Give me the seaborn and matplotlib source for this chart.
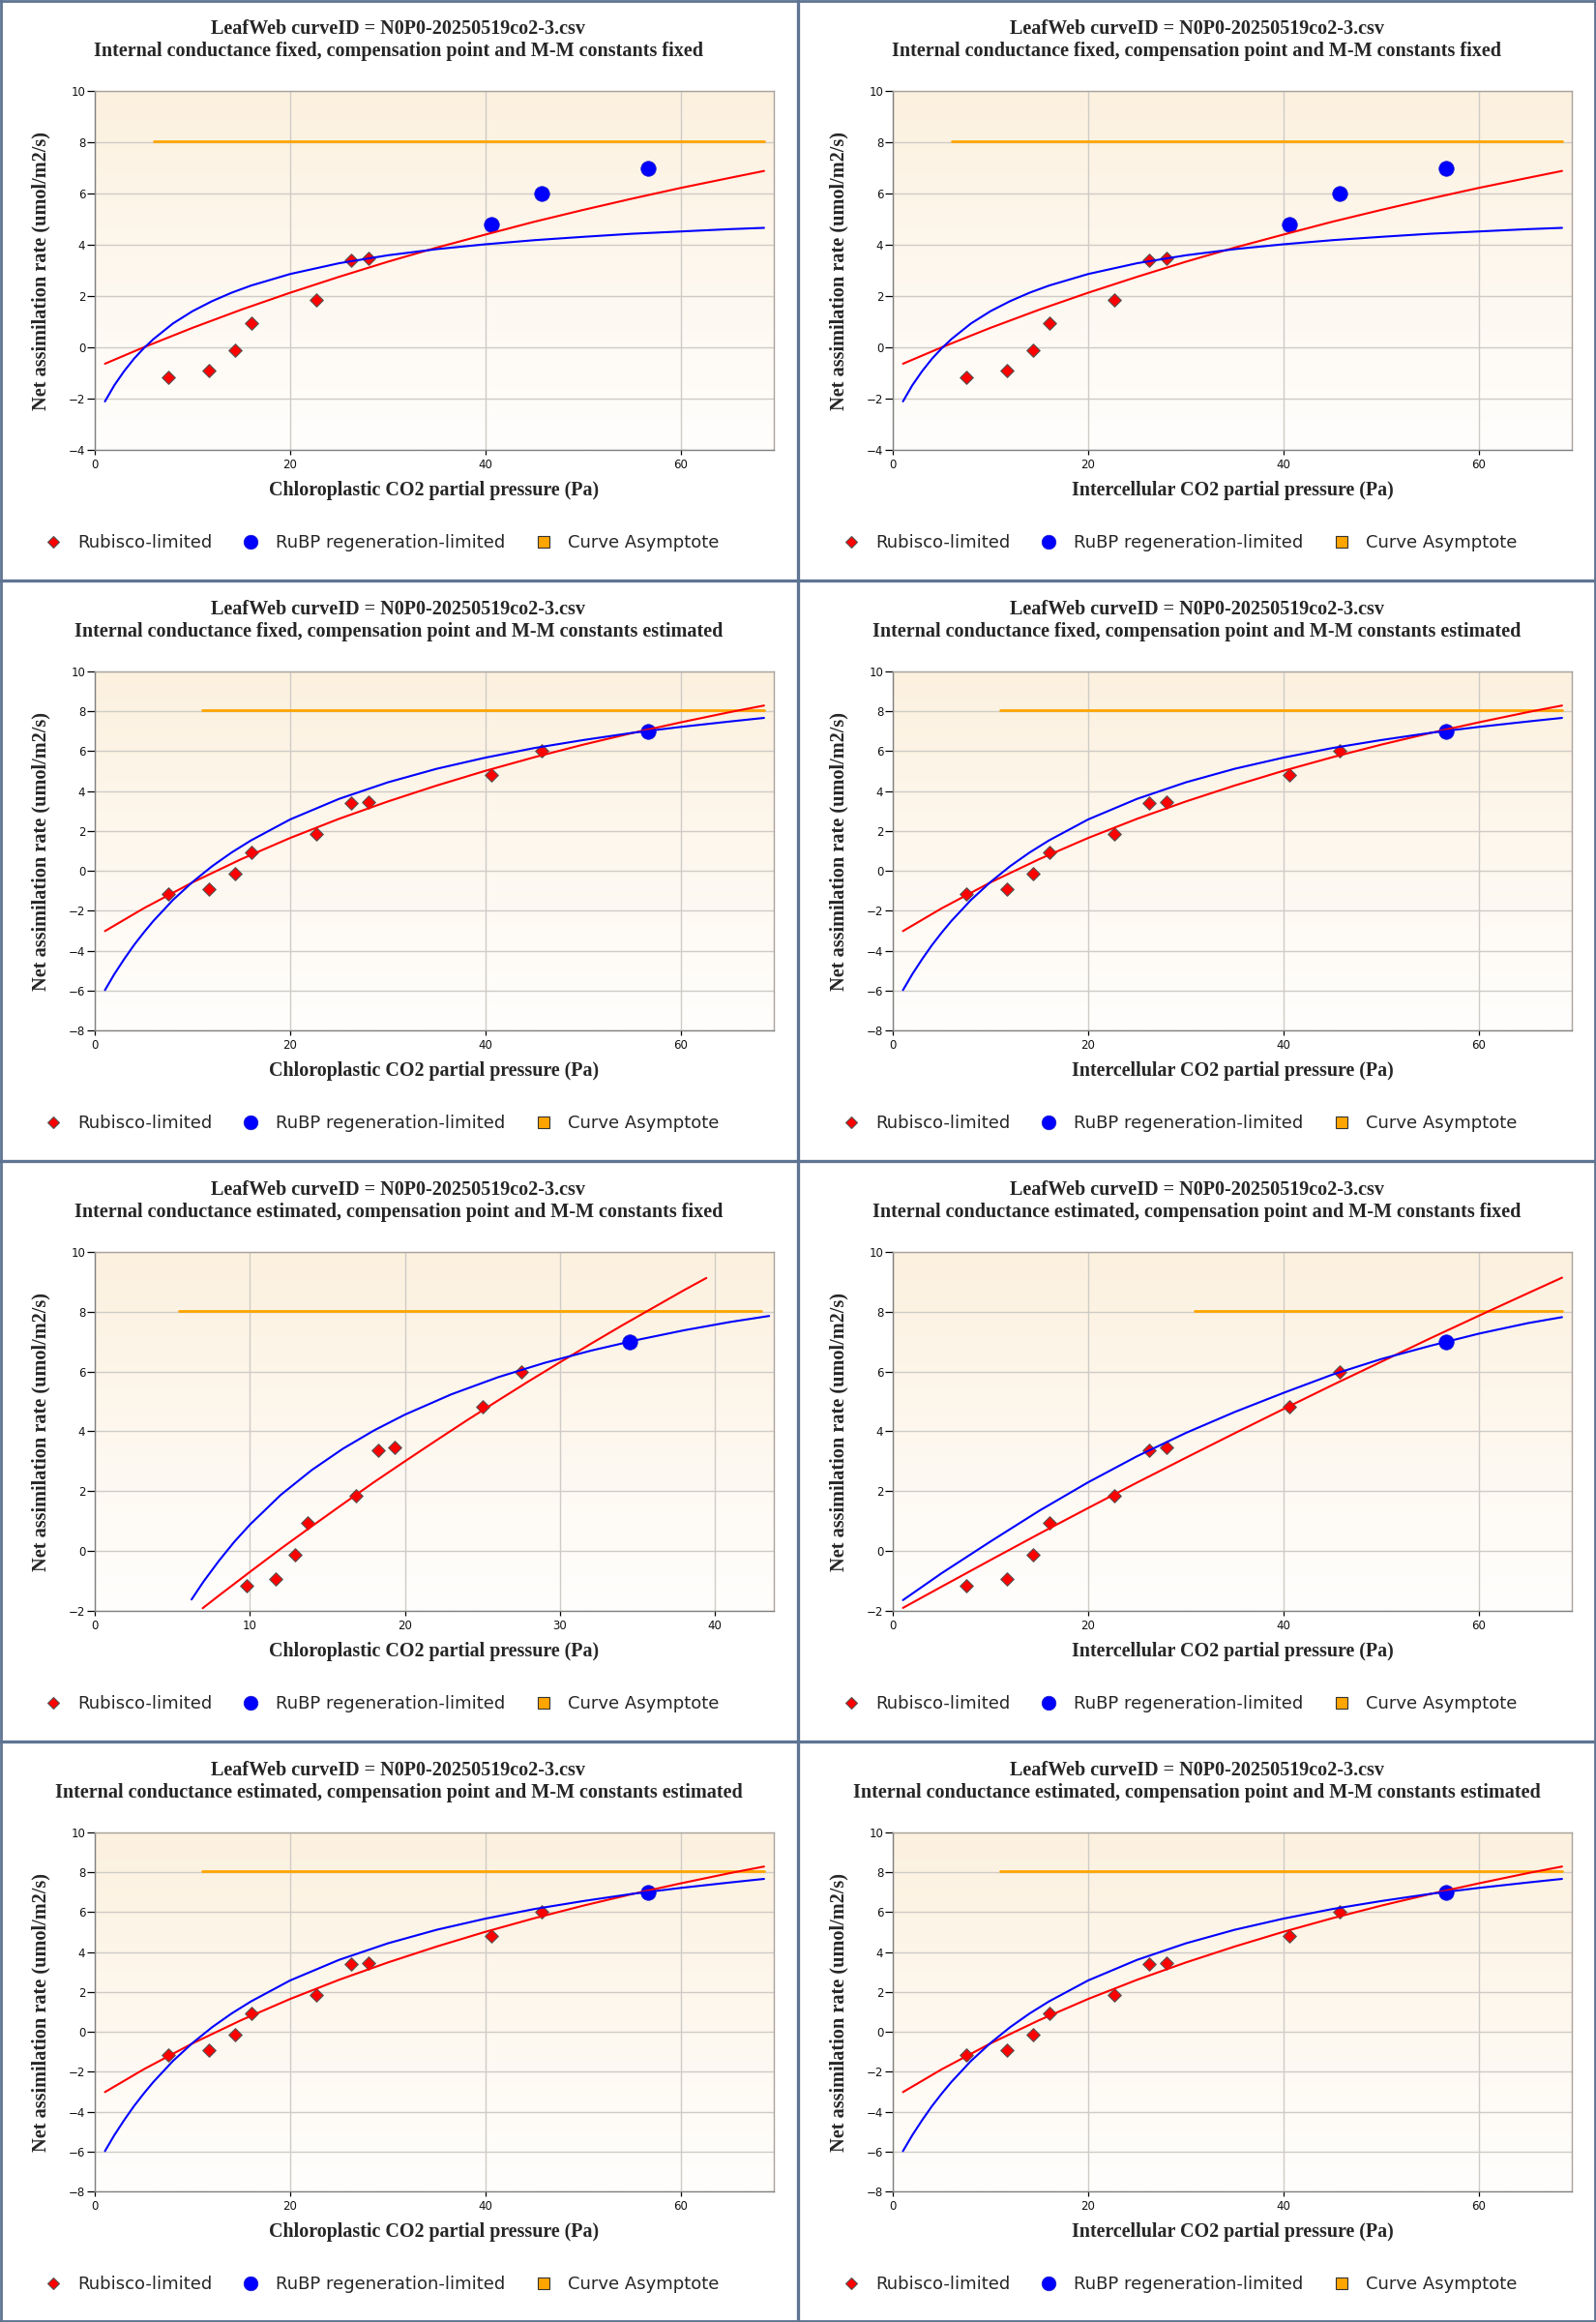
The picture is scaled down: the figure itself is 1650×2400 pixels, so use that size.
import numpy as np
import pandas as pd
import matplotlib
matplotlib.use("Agg")
import matplotlib.pyplot as plt
from matplotlib.lines import Line2D
from matplotlib.colors import LinearSegmentedColormap
import seaborn as sns

# ---------------- data ----------------
curve_id = "LeafWeb curveID = N0P0-20250519co2-3.csv"

# measured points (x = CO2 partial pressure, Pa ; y = net assimilation)
co2_pressure = [7.5, 11.67, 14.32, 16.04, 22.66, 26.25, 27.97, 40.57, 45.78, 56.67]
co2_pressure_gm_est = [9.78, 11.65, 12.9, 13.72, 16.84, 18.31, 19.36, 25.0, 27.53, 34.5]
net_assim = [-1.17, -0.92, -0.12, 0.93, 1.84, 3.38, 3.47, 4.81, 6.0, 7.0]

R = "Rubisco-limited"
J = "RuBP regeneration-limited"
limits_fixed = [R, R, R, R, R, R, R, J, J, J]
limits_est = [R, R, R, R, R, R, R, R, R, J]

# fitted curves
fitA_rub_x = [1.04, 5, 10, 15, 20, 25, 30, 35, 40, 45, 50, 55, 60, 65, 68.5]
fitA_rub_y = [-0.64, 0.0, 0.76, 1.47, 2.13, 2.75, 3.34, 3.89, 4.40, 4.90, 5.36, 5.80, 6.22, 6.61, 6.88]
fitA_rubp_x = [1.04, 2, 3, 4, 5, 6, 8, 10, 12, 14, 16, 20, 25, 30, 35, 40, 45, 50, 55, 60, 65, 68.5]
fitA_rubp_y = [-2.11, -1.48, -0.93, -0.45, -0.04, 0.32, 0.93, 1.41, 1.80, 2.13, 2.41, 2.86, 3.28,
               3.59, 3.83, 4.02, 4.18, 4.31, 4.43, 4.52, 4.61, 4.66]

fitB_rub_x = [1.04, 5, 10, 15, 20, 25, 30, 35, 40, 45, 50, 55, 60, 65, 68.5]
fitB_rub_y = [-3.02, -1.88, -0.58, 0.59, 1.65, 2.61, 3.48, 4.28, 5.02, 5.70, 6.33, 6.91, 7.45, 7.96, 8.29]
fitB_rubp_x = [1.04, 2, 3, 4, 5, 6, 8, 10, 12, 14, 16, 20, 25, 30, 35, 40, 45, 50, 55, 60, 65, 68.5]
fitB_rubp_y = [-5.98, -5.18, -4.43, -3.73, -3.10, -2.51, -1.46, -0.56, 0.23, 0.92, 1.53, 2.58, 3.61,
               4.44, 5.12, 5.68, 6.16, 6.56, 6.92, 7.22, 7.49, 7.67]

fitC_rub_x = [6.96, 8, 10, 12, 14, 16, 18, 20, 22, 24, 26, 28, 30, 32, 34, 36, 38, 39.45]
fitC_rub_y = [-1.91, -1.49, -0.70, 0.08, 0.83, 1.57, 2.30, 3.00, 3.69, 4.37, 5.03, 5.68, 6.31,
              6.93, 7.54, 8.13, 8.72, 9.13]
fitC_rubp_x = [6.24, 7, 8, 9, 10, 12, 14, 16, 18, 20, 23, 26, 29, 32, 35, 38, 41, 43.5]
fitC_rubp_y = [-1.62, -1.03, -0.33, 0.31, 0.88, 1.88, 2.71, 3.42, 4.03, 4.56, 5.24, 5.81, 6.29,
               6.70, 7.06, 7.38, 7.66, 7.86]

fitD_x = [1.04, 5, 10, 15, 20, 25, 30, 35, 40, 45, 50, 55, 60, 65, 68.5]
fitD_rub_y = [-1.90, -1.19, -0.30, 0.58, 1.44, 2.29, 3.12, 3.94, 4.75, 5.55, 6.33, 7.11, 7.87, 8.62, 9.14]
fitD_rubp_y = [-1.64, -0.74, 0.32, 1.35, 2.30, 3.17, 3.95, 4.65, 5.29, 5.90, 6.42, 6.86, 7.27, 7.62, 7.82]

# asymptotes: (value, x start, x end)
asymA = (8.05, 6.0, 68.5)
asymB = (8.05, 11.0, 68.5)
asymC = (8.04, 5.4, 43.0)
asymD = (8.04, 30.9, 68.5)

xlabel_cc = "Chloroplastic CO2 partial pressure (Pa)"
xlabel_ci = "Intercellular CO2 partial pressure (Pa)"
ylabel = "Net assimilation rate (umol/m2/s)"
sub_ff = "Internal conductance fixed, compensation point and M-M constants fixed"
sub_fe = "Internal conductance fixed, compensation point and M-M constants estimated"
sub_ef = "Internal conductance estimated, compensation point and M-M constants fixed"
sub_ee = "Internal conductance estimated, compensation point and M-M constants estimated"

caseA = dict(px=co2_pressure, lim=limits_fixed, rx=fitA_rub_x, ry=fitA_rub_y, jx=fitA_rubp_x,
             jy=fitA_rubp_y, asym=asymA, ylim=(-4, 10), xlim=(0, 69.5), xstep=20)
caseB = dict(px=co2_pressure, lim=limits_est, rx=fitB_rub_x, ry=fitB_rub_y, jx=fitB_rubp_x,
             jy=fitB_rubp_y, asym=asymB, ylim=(-8, 10), xlim=(0, 69.5), xstep=20)
caseC = dict(px=co2_pressure_gm_est, lim=limits_est, rx=fitC_rub_x, ry=fitC_rub_y, jx=fitC_rubp_x,
             jy=fitC_rubp_y, asym=asymC, ylim=(-2, 10), xlim=(0, 43.8), xstep=10)
caseD = dict(px=co2_pressure, lim=limits_est, rx=fitD_x, ry=fitD_rub_y, jx=fitD_x,
             jy=fitD_rubp_y, asym=asymD, ylim=(-2, 10), xlim=(0, 69.5), xstep=20)

panels = [
    [(caseA, sub_ff, xlabel_cc), (caseA, sub_ff, xlabel_ci)],
    [(caseB, sub_fe, xlabel_cc), (caseB, sub_fe, xlabel_ci)],
    [(caseC, sub_ef, xlabel_cc), (caseD, sub_ef, xlabel_ci)],
    [(caseB, sub_ee, xlabel_cc), (caseB, sub_ee, xlabel_ci)],
]

# ---------------- style ----------------
sns.set_theme(style="white")
plt.rcParams['font.family'] = ['DejaVu Sans']
SERIF = ['Liberation Serif', 'DejaVu Serif']
RED, BLUE, ORANGE = '#ff0000', '#0000ff', '#ffa500'
BORDER = '#5f7493'

W, H = 1650, 2400
PW, PH = 825, 600
fig = plt.figure(figsize=(W / 100, H / 100), dpi=100)
fig.patch.set_facecolor('white')

bg_cmap = LinearSegmentedColormap.from_list('bg', ['#fcf1df', '#fffefd'])


def fx(px):
    return px / W


def fy(py):
    return 1 - py / H


for r, row in enumerate(panels):
    for c, (case, subtitle, xlabel) in enumerate(row):
        x0, y0 = c * PW, r * PH
        ax = fig.add_axes([fx(x0 + 98), fy(y0 + 465), 702 / W, 371 / H])
        ax.imshow(np.linspace(0, 1, 256).reshape(-1, 1), cmap=bg_cmap, aspect='auto',
                  extent=[0, 1, 0, 1], transform=ax.transAxes, zorder=-5)

        df = pd.DataFrame({'x': case['px'], 'A': net_assim, 'limit': case['lim']})
        dr = df[df['limit'] == R]
        dj = df[df['limit'] == J]

        sns.lineplot(x=[case['asym'][1], case['asym'][2]], y=[case['asym'][0]] * 2, ax=ax,
                     color=ORANGE, lw=2.0, estimator=None, sort=False, zorder=3)
        sns.scatterplot(data=dr, x='x', y='A', ax=ax, marker='D', s=48, color=RED,
                        edgecolor='#555555', linewidth=0.8, zorder=4)
        sns.scatterplot(data=dj, x='x', y='A', ax=ax, marker='o', s=125, color=BLUE,
                        edgecolor='#1a1acc', linewidth=0.5, zorder=4)
        sns.lineplot(x=case['rx'], y=case['ry'], ax=ax, color=RED, lw=1.5,
                     estimator=None, sort=False, zorder=5)
        sns.lineplot(x=case['jx'], y=case['jy'], ax=ax, color=BLUE, lw=1.5,
                     estimator=None, sort=False, zorder=5)

        ax.set_xlim(*case['xlim'])
        ax.set_ylim(*case['ylim'])
        ax.set_xticks(np.arange(0, case['xlim'][1], case['xstep']))
        ax.set_yticks(np.arange(case['ylim'][0], 10.1, 2))
        ax.grid(True, color='#cfcbc6', lw=1.0)
        ax.set_axisbelow(True)
        ax.set_xlabel('')
        ax.set_ylabel('')
        for side in ['left', 'bottom']:
            ax.spines[side].set_color('#808080')
            ax.spines[side].set_linewidth(1.0)
        for side in ['top', 'right']:
            ax.spines[side].set_color('#aaa39c')
            ax.spines[side].set_linewidth(1.0)
        ax.tick_params(axis='y', left=True, length=5.5, width=0.9, color='black', pad=1.5,
                       labelsize=8.5, labelcolor='#111111')
        ax.tick_params(axis='x', bottom=True, length=3.5, width=0.9, color='black', pad=3,
                       labelsize=8.5, labelcolor='#111111')
        if ax.get_legend() is not None:
            ax.get_legend().remove()

        # titles and axis labels
        fig.text(fx(x0 + 412), fy(y0 + 30), curve_id, ha='center', va='center',
                 family=SERIF, fontweight='bold', fontsize=14.5)
        fig.text(fx(x0 + 412), fy(y0 + 53), subtitle, ha='center', va='center',
                 family=SERIF, fontweight='bold', fontsize=14.5)
        fig.text(fx(x0 + 449), fy(y0 + 507), xlabel, ha='center', va='center',
                 family=SERIF, fontweight='bold', fontsize=14.4)
        fig.text(fx(x0 + 42), fy(y0 + 280), ylabel, ha='center', va='center', rotation=90,
                 family=SERIF, fontweight='bold', fontsize=14.6)

        handles = [
            Line2D([], [], ls='none', marker='D', markersize=6.6, markerfacecolor=RED,
                   markeredgecolor='#555555', markeredgewidth=0.8),
            Line2D([], [], ls='none', marker='o', markersize=10.5, markerfacecolor=BLUE,
                   markeredgecolor='#1a1acc', markeredgewidth=0.5),
            Line2D([], [], ls='none', marker='s', markersize=9.2, markerfacecolor=ORANGE,
                   markeredgecolor='#333333', markeredgewidth=0.8),
        ]
        labels = [R, J, "Curve Asymptote"]
        ax.legend(handles, labels, loc='center left', ncol=3, frameon=False,
                  bbox_to_anchor=(fx(x0 + 46), fy(y0 + 561)), bbox_transform=fig.transFigure,
                  prop={'family': 'DejaVu Sans', 'size': 13}, handlelength=1.0,
                  handletextpad=0.89, columnspacing=1.72, borderpad=0, borderaxespad=0)

# panel borders
for xp, lw in [(1.4, 2.8), (825, 3.3), (W - 1.4, 2.8)]:
    fig.add_artist(Line2D([fx(xp), fx(xp)], [0, 1], transform=fig.transFigure,
                          color=BORDER, lw=lw * 0.72))
for yp, lw in [(1.4, 2.8), (600, 3.3), (1200, 3.3), (1800, 3.3), (H - 1.4, 2.8)]:
    fig.add_artist(Line2D([0, 1], [fy(yp), fy(yp)], transform=fig.transFigure,
                          color=BORDER, lw=lw * 0.72))

fig.savefig("out.png", dpi=100)
